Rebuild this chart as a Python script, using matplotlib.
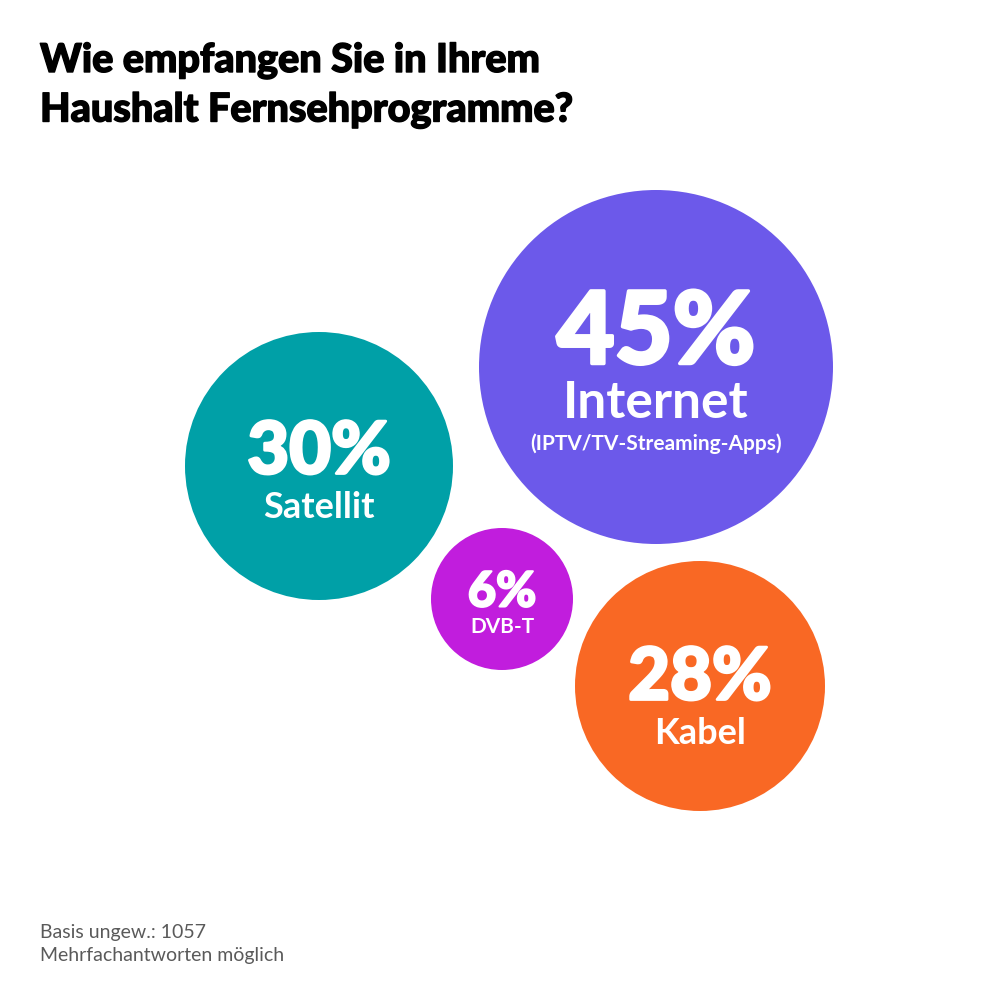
import matplotlib
matplotlib.use("Agg")
import matplotlib.pyplot as plt
from matplotlib.patches import Circle
import matplotlib.patheffects as pe

# Data
categories = ["Internet", "Satellit", "DVB-T", "Kabel"]
values = [45, 30, 6, 28]
subtitles = ["(IPTV/TV-Streaming-Apps)", "", "", ""]

# Layout (pixel coordinates, y downward)
centers = [(656, 367), (319, 466), (502, 599), (700, 686)]
radii = [177, 134, 71, 125]
colors = ["#6C59EA", "#00A0A7", "#C11DDD", "#F96824"]
pct_sizes = [72, 52, 35, 52]
lab_sizes = [37, 26, 15, 26]
pct_offsets = [-32, -13, -7, -7]
lab_offsets = [36, 41, 28, 47]
pct_strokes = [2.5, 2.0, 1.5, 2.0]

FONT = "Lato"

fig = plt.figure(figsize=(10, 10), dpi=100)
ax = fig.add_axes([0, 0, 1, 1])
ax.set_xlim(0, 1000)
ax.set_ylim(1000, 0)
ax.set_aspect("equal")
ax.axis("off")

for i, (cat, val) in enumerate(zip(categories, values)):
    cx, cy = centers[i]
    ax.add_patch(Circle((cx, cy), radii[i], color=colors[i], lw=0))
    ax.text(cx, cy + pct_offsets[i], f"{val}%", ha="center", va="center",
            color="white", fontsize=pct_sizes[i], fontweight="black", family=FONT,
            path_effects=[pe.withStroke(linewidth=pct_strokes[i], foreground="white")])
    ax.text(cx, cy + lab_offsets[i], cat, ha="center", va="center",
            color="white", fontsize=lab_sizes[i], fontweight="bold", family=FONT)
    if subtitles[i]:
        ax.text(cx, cy + 77, subtitles[i], ha="center", va="center",
                color="white", fontsize=15, fontweight="bold", family=FONT)

fig.text(0.04, 0.871, "Wie empfangen Sie in Ihrem\nHaushalt Fernsehprogramme?",
         ha="left", va="bottom", fontsize=28.5, fontweight="black", family=FONT,
         color="black", linespacing=1.4,
         path_effects=[pe.withStroke(linewidth=1.0, foreground="black")])
fig.text(0.04, 0.036, "Basis ungew.: 1057\nMehrfachantworten möglich",
         ha="left", va="bottom", fontsize=14, family=FONT, color="#5a5a5a",
         linespacing=1.4)

fig.savefig("out.png", dpi=100, facecolor="white")
